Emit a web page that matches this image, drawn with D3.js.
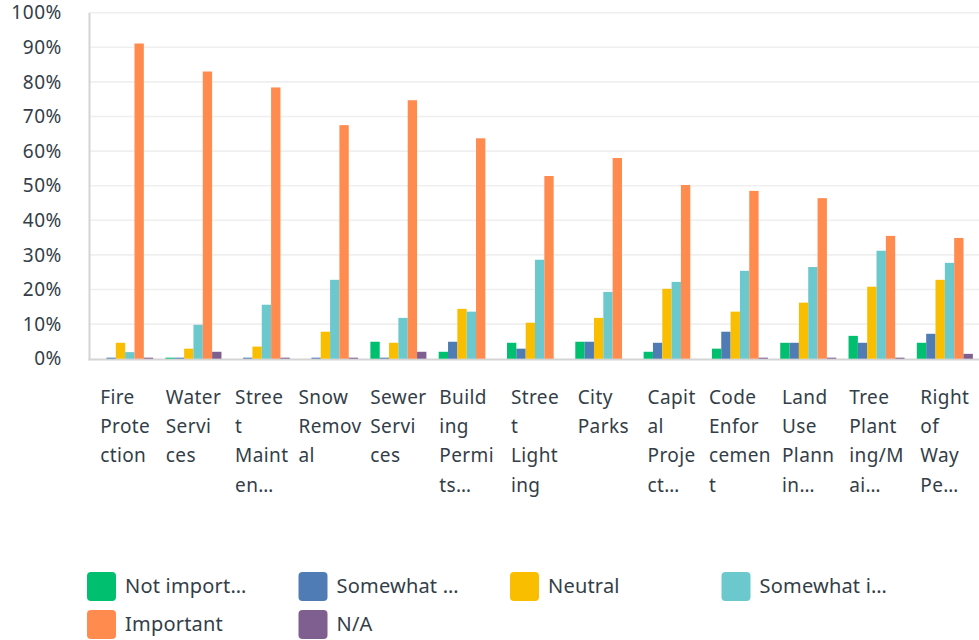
<!DOCTYPE html>
<html>
<head>
<meta charset="utf-8">
<script src="https://cdn.jsdelivr.net/npm/d3@7"></script>
<style>
  html, body { margin: 0; padding: 0; background: #ffffff; }
  svg { display: block; font-family: "Noto Sans", "DejaVu Sans", sans-serif; }
</style>
</head>
<body>
<svg id="chart" width="979" height="640"></svg>
<script>
// ---- data ----
const categories = ["Fire Protection", "Water Services", "Street Maintenance", "Snow Removal",
  "Sewer Services", "Building Permits", "Street Lighting", "City Parks", "Capital Projects",
  "Code Enforcement", "Land Use Planning", "Tree Planting/Maintenance", "Right of Way Permits"];
const categoryLines = [
  ["Fire", "Prote", "ction"],
  ["Water", "Servi", "ces"],
  ["Stree", "t", "Maint", "en\u2026"],
  ["Snow", "Remov", "al"],
  ["Sewer", "Servi", "ces"],
  ["Build", "ing", "Permi", "ts\u2026"],
  ["Stree", "t", "Light", "ing"],
  ["City", "Parks"],
  ["Capit", "al", "Proje", "ct\u2026"],
  ["Code", "Enfor", "cemen", "t"],
  ["Land", "Use", "Plann", "in\u2026"],
  ["Tree", "Plant", "ing/M", "ai\u2026"],
  ["Right", "of", "Way", "Pe\u2026"]
];
const seriesNames = ["Not important", "Somewhat not important", "Neutral", "Somewhat important", "Important", "N/A"];
const legendLabels = ["Not import\u2026", "Somewhat \u2026", "Neutral", "Somewhat i\u2026", "Important", "N/A"];
const seriesColors = ["#00bf6f", "#507cb6", "#f9be00", "#6bc8cd", "#ff8b4f", "#7f5f90"];

const notImportant         = [0,   0.3, 0,   0,   4.9, 2.0, 4.6, 4.9, 2.0, 2.9, 4.6, 6.6, 4.6];
const somewhatNotImportant = [0.3, 0.3, 0.3, 0.3, 0.3, 4.9, 2.9, 4.9, 4.6, 7.8, 4.6, 4.6, 7.2];
const neutral              = [4.6, 2.9, 3.5, 7.8, 4.6, 14.4, 10.4, 11.8, 20.2, 13.6, 16.2, 20.8, 22.8];
const somewhatImportant    = [1.9, 9.8, 15.6, 22.8, 11.8, 13.6, 28.6, 19.3, 22.2, 25.4, 26.5, 31.2, 27.7];
const important            = [91.1, 83.0, 78.4, 67.5, 74.7, 63.7, 52.8, 58.0, 50.2, 48.5, 46.4, 35.5, 34.9];
const notApplicable        = [0.3, 2.0, 0.3, 0.3, 2.0, 0, 0, 0, 0, 0.3, 0.3, 0.3, 1.4];
const seriesValues = [notImportant, somewhatNotImportant, neutral, somewhatImportant, important, notApplicable];

const yTicks = [0, 10, 20, 30, 40, 50, 60, 70, 80, 90, 100];

// ---- layout ----
const svg = d3.select("#chart");
const textColor = "#333e48";
const plot = { left: 91, right: 979, top: 12.7, bottom: 358.7 };

const y = d3.scaleLinear().domain([0, 100]).range([plot.bottom, plot.top]);
const x0 = d3.scaleBand().domain(d3.range(categories.length)).range([plot.left, plot.right]).padding(0);
const groupWidth = 56;
const x1 = d3.scaleBand().domain(d3.range(seriesNames.length)).range([0, groupWidth]).padding(0);

// gridlines
svg.append("g").selectAll("line").data(yTicks.filter(t => t > 0)).join("line")
  .attr("x1", plot.left - 1).attr("x2", plot.right)
  .attr("y1", d => y(d)).attr("y2", d => y(d))
  .attr("stroke", "#efefef").attr("stroke-width", 1.6);

// y tick labels
svg.append("g").selectAll("text").data(yTicks).join("text")
  .attr("x", 62).attr("y", d => y(d))
  .attr("dy", "0.35em")
  .attr("text-anchor", "end")
  .attr("fill", textColor)
  .attr("font-size", 19)
  .attr("letter-spacing", 0.6)
  .text(d => d + "%");

// axes lines (drawn under bars)
svg.append("line").attr("x1", plot.left - 1.5).attr("x2", plot.left - 1.5)
  .attr("y1", plot.top).attr("y2", plot.bottom + 1.5)
  .attr("stroke", "#d4d4d4").attr("stroke-width", 2);
svg.append("line").attr("x1", plot.left - 2.5).attr("x2", plot.right)
  .attr("y1", plot.bottom + 0.8).attr("y2", plot.bottom + 0.8)
  .attr("stroke", "#d4d4d4").attr("stroke-width", 2);

// bars
const groups = svg.append("g").selectAll("g").data(categories).join("g")
  .attr("transform", (d, i) => `translate(${x0(i) + (x0.bandwidth() - groupWidth) / 2},0)`);
groups.selectAll("rect").data((d, i) => seriesValues.map((s, k) => ({ k, v: s[i] })))
  .join("rect")
  .attr("x", d => x1(d.k))
  .attr("width", x1.bandwidth())
  .attr("y", d => y(d.v))
  .attr("height", d => plot.bottom - y(d.v))
  .attr("fill", d => seriesColors[d.k]);

// x labels (wrapped lines, block centered in band, lines left aligned)
const xl = svg.append("g").selectAll("text").data(categoryLines).join("text")
  .attr("fill", textColor)
  .attr("font-size", 19)
  .attr("letter-spacing", 0.4);
xl.each(function(lines, i) {
  const t = d3.select(this);
  lines.forEach((ln, j) => {
    t.append("tspan").attr("x", 0).attr("y", 404 + j * 29.2).text(ln);
  });
  let maxW = 0;
  t.selectAll("tspan").each(function() { maxW = Math.max(maxW, this.getComputedTextLength()); });
  const cx = x0(i) + x0.bandwidth() / 2;
  t.attr("transform", `translate(${cx - maxW / 2},0)`);
});

// legend
const legendCols = [87, 298.5, 510, 721.5];
const legendRows = [586, 624];
const lg = svg.append("g").selectAll("g").data(legendLabels).join("g")
  .attr("transform", (d, i) => `translate(${legendCols[i % 4]},${legendRows[Math.floor(i / 4)]})`);
lg.append("rect").attr("x", 0).attr("y", -14).attr("width", 29).attr("height", 29)
  .attr("rx", 4).attr("fill", (d, i) => seriesColors[i]);
lg.append("text").attr("x", 38).attr("y", 0).attr("dy", "0.35em")
  .attr("fill", textColor).attr("font-size", 20).attr("letter-spacing", 0.2)
  .text(d => d);
</script>
</body>
</html>
